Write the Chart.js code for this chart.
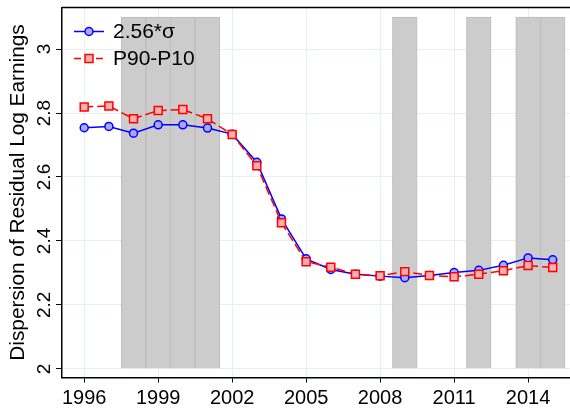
<!DOCTYPE html>
<html>
<head>
<meta charset="utf-8">
<script src="https://cdn.jsdelivr.net/npm/chart.js@4.4.1/dist/chart.umd.min.js"></script>
<style>
html, body { margin: 0; padding: 0; background: #fff; }
#wrap { width: 570px; height: 409px; position: relative; }
</style>
</head>
<body>
<div id="wrap"><canvas id="dispersionChart"></canvas></div>
<script>
const years = [1996, 1997, 1998, 1999, 2000, 2001, 2002, 2003, 2004, 2005,
               2006, 2007, 2008, 2009, 2010, 2011, 2012, 2013, 2014, 2015];
const sigmaValues = [2.754, 2.758, 2.737, 2.763, 2.763, 2.753, 2.734, 2.646, 2.469, 2.344,
                     2.311, 2.296, 2.290, 2.285, 2.292, 2.301, 2.308, 2.324, 2.347, 2.341];
const p90p10Values = [2.819, 2.822, 2.782, 2.808, 2.811, 2.782, 2.733, 2.635, 2.457, 2.335,
                      2.318, 2.296, 2.291, 2.304, 2.292, 2.288, 2.296, 2.307, 2.323, 2.317];
const shadedYears = [1998, 1999, 2000, 2001, 2009, 2012, 2014, 2015];
const shadeTop = 3.1;
const shadeBase = 2;
const xTicks = [1996, 1999, 2002, 2005, 2008, 2011, 2014];
const yTicks = [2, 2.2, 2.4, 2.6, 2.8, 3];
const seriesLabels = ['2.56*σ', 'P90-P10'];

const FONT = "'Liberation Sans', Arial, sans-serif";
const gridColor = '#e6eff1';

const series = [
    { label: seriesLabels[0], values: sigmaValues, color: '#0000ff', fill: '#a8a8ff', dash: [], style: 'circle', radius: 4 },
    { label: seriesLabels[1], values: p90p10Values, color: '#ff0000', fill: '#ffb0b0', dash: [9, 4], style: 'rect', radius: 5.6 },
];

// legend sits inside the plot, top-left, with line + marker samples
const insideLegend = {
    id: 'insideLegend',
    afterDraw(chart) {
        const { ctx, chartArea } = chart;
        ctx.save();
        // top frame line
        ctx.strokeStyle = '#000';
        ctx.lineWidth = 1.5;
        ctx.beginPath();
        ctx.moveTo(chartArea.left, chartArea.top);
        ctx.lineTo(chartArea.right, chartArea.top);
        ctx.stroke();

        series.forEach((s, i) => {
            const y = chartArea.top + 24 + i * 27;
            const x0 = chartArea.left + 12;
            const cx = x0 + 15;
            ctx.setLineDash(s.dash.length ? [7, 4] : []);
            ctx.strokeStyle = s.color;
            ctx.lineWidth = 1.5;
            ctx.beginPath();
            ctx.moveTo(x0, y);
            ctx.lineTo(x0 + 30, y);
            ctx.stroke();
            ctx.setLineDash([]);
            ctx.fillStyle = s.fill;
            ctx.beginPath();
            if (s.style === 'circle') {
                ctx.arc(cx, y, s.radius, 0, Math.PI * 2);
            } else {
                ctx.rect(cx - 4, y - 4, 8, 8);
            }
            ctx.fill();
            ctx.stroke();
            ctx.fillStyle = '#000';
            ctx.font = '21px ' + FONT;
            ctx.textBaseline = 'middle';
            ctx.textAlign = 'left';
            ctx.fillText(s.label, chartArea.left + 51, y + 1);
        });
        ctx.restore();
    },
};

new Chart(document.getElementById('dispersionChart'), {
    data: {
        datasets: [
            {
                type: 'bar',
                data: shadedYears.map((yr) => ({ x: yr, y: shadeTop })),
                base: shadeBase,
                backgroundColor: '#cccccc',
                borderColor: '#bdbdbd',
                borderWidth: 1,
                barPercentage: 1,
                categoryPercentage: 1,
                order: 3,
            },
            ...series.map((s, i) => ({
                type: 'line',
                label: s.label,
                data: years.map((yr, j) => ({ x: yr, y: s.values[j] })),
                borderColor: s.color,
                borderWidth: 1.5,
                borderDash: s.dash,
                pointStyle: s.style,
                pointRadius: s.radius,
                pointBorderWidth: 1.5,
                pointBackgroundColor: s.fill,
                pointBorderColor: s.color,
                tension: 0,
                order: 2 - i,
            })),
        ],
    },
    options: {
        responsive: true,
        maintainAspectRatio: false,
        animation: false,
        layout: { autoPadding: false, padding: { top: 7.5, left: 0, right: 0, bottom: 0 } },
        plugins: { legend: { display: false }, tooltip: { enabled: false } },
        scales: {
            x: {
                type: 'linear',
                min: 1995.1,
                max: 2015.7,
                offset: false,
                afterBuildTicks: (scale) => { scale.ticks = xTicks.map((v) => ({ value: v })); },
                afterFit: (scale) => { scale.height = 31.5; scale.paddingLeft = 0; scale.paddingRight = 0; },
                grid: { color: gridColor, tickColor: '#000', tickLength: 5, lineWidth: 1, offset: false },
                border: { color: '#000', width: 1.5 },
                ticks: { color: '#000', font: { family: FONT, size: 20 }, padding: 4, maxRotation: 0, callback: (v) => String(v) },
            },
            y: {
                min: 1.973,
                max: 3.13,
                afterBuildTicks: (scale) => { scale.ticks = yTicks.map((v) => ({ value: v })); },
                afterFit: (scale) => { scale.width = 62; scale.paddingTop = 0; scale.paddingBottom = 0; },
                grid: { color: gridColor, tickColor: '#000', tickLength: 6, lineWidth: 1 },
                border: { color: '#000', width: 1.5 },
                ticks: { color: '#000', font: { family: FONT, size: 19 }, padding: -2, minRotation: 90, maxRotation: 90, crossAlign: 'center', callback: (v) => String(v) },
                title: { display: true, text: 'Dispersion of Residual Log Earnings', color: '#000', font: { family: FONT, size: 20.8 }, padding: { top: 6, bottom: 0 } },
            },
        },
    },
    plugins: [insideLegend],
});
</script>
</body>
</html>
